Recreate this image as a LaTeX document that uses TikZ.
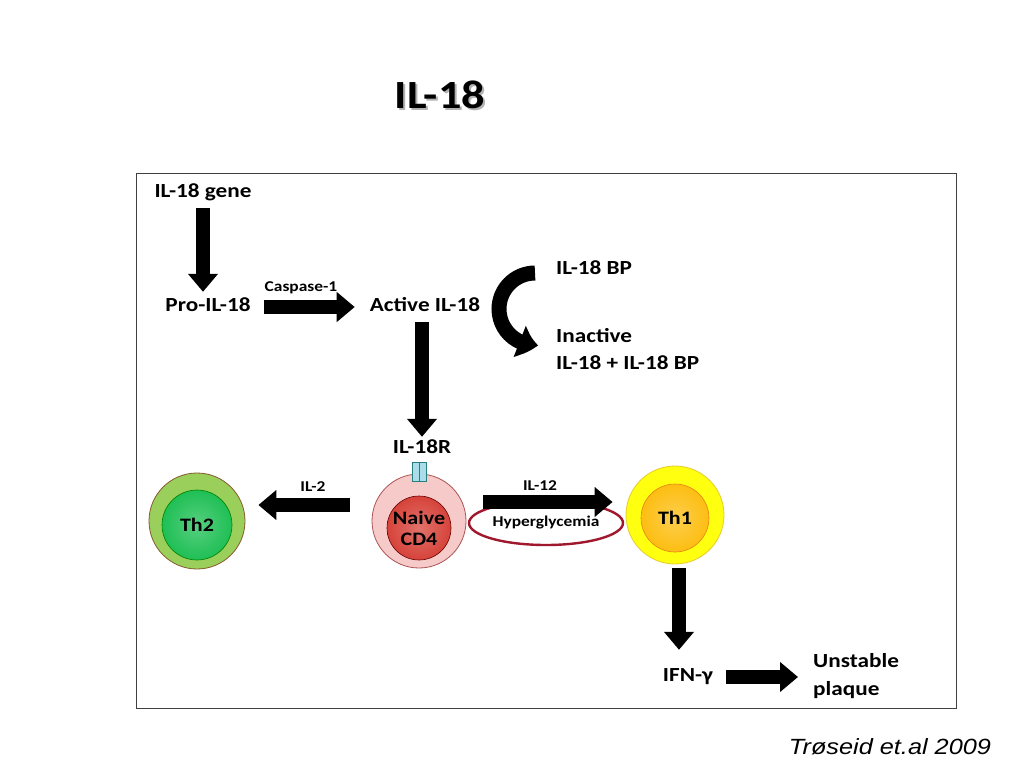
\documentclass[tikz,border=0pt]{standalone}
\usepackage{fontspec}
\setmainfont{Carlito}[FakeStretch=1.16]
\newfontfamily\citefont{Liberation Sans}[FakeStretch=1.15]
\usepackage{tikz}
\usetikzlibrary{arrows.meta,bending,calc,shapes.geometric}
\definecolor{ringgreen}{HTML}{9BCF5B}
\definecolor{cellgreen}{HTML}{1FBF55}
\definecolor{ringpink}{HTML}{F7CACA}
\definecolor{cellred}{HTML}{D6433A}
\definecolor{ringyellow}{HTML}{FFFF10}
\definecolor{cellorange}{HTML}{FDBE12}
\definecolor{hyper}{HTML}{A0182E}
\definecolor{recblue}{HTML}{A9DDE9}
\tikzset{
	every node/.style={
		font=\fontsize{20}{22}\selectfont\bfseries,
		inner sep=0pt,
		text height=13pt,
		text depth=4pt
	},
	small/.style={
		font=\fontsize{15}{17}\selectfont\bfseries,
		text height=10pt,
		text depth=3pt
	},
	twoline/.style={
		align=left,
		anchor=west,
		text height=,
		text depth=,
		font=\fontsize{20}{27.5}\selectfont\bfseries
	},
	ring/.style={
		shape=circle,
		minimum size=#1,
		line width=0.8pt
	},
	cell/.style={
		shape=circle,
		minimum size=#1,
		line width=0.6pt,
		align=center,
		text height=,
		text depth=,
		font=\fontsize{19}{21}\selectfont\bfseries
	},
	block/.style={
		line width=14pt,
		-{Triangle[width=29pt,length=18pt]}
	},
}

\begin{document}
\begin{tikzpicture}[x=1pt,y=-1pt]
	\useasboundingbox (0,0) rectangle (1024,768);
	\fill[white] (0,0) rectangle (1024,768);

	\node[gray!60, font=\fontsize{40}{44}\selectfont\bfseries, text height=, text depth=] at (442,97) {IL-18};
	\node[font=\fontsize{40}{44}\selectfont\bfseries, text height=, text depth=] (title) at (440,95) {IL-18};

	\draw[black!75, line width=0.8pt] (136,173) rectangle (956,708);

	\node (gene)   at (203,193) {IL-18 gene};
	\node (pro)    at (208,307) {Pro-IL-18};
	\node[small] (casp) at (301,288) {Caspase-1};
	\node (active) at (425,307) {Active IL-18};
	\node (ir)     at (422,449) {IL-18R};
	\node[anchor=west] (bp) at (556,270) {IL-18 BP};
	\node[twoline] (inact) at (556,349) {Inactive\\IL-18 + IL-18 BP};

	\node[ring=96pt, fill=ringgreen, draw=brown!70!black] (th2ring) at (197,521) {};
	\node[cell=70pt, shading=radial, inner color=cellgreen!75!white, outer color=cellgreen, draw=green!50!black] (th2) at (197,525) {Th2};
	\node[ring=94pt, fill=ringpink, draw=red!35!gray] (cd4ring) at (419,521) {};
	\node[cell=64pt, shading=radial, inner color=cellred!75!white, outer color=cellred, draw=red!40!black] (cd4) at (419,528) {Naive\\CD4};
	\node[shape=rectangle, minimum width=14pt, minimum height=19pt, fill=recblue, draw=teal!70!gray, line width=0.6pt,
		path picture={\draw[teal!70!gray, line width=0.5pt] (path picture bounding box.north) -- (path picture bounding box.south);}]
		(rec) at (419,472) {};
	\node[ring=98pt, fill=ringyellow, draw=yellow!60!brown] (th1ring) at (675,515) {};
	\node[cell=68pt, shading=radial, inner color=cellorange!75!white, outer color=cellorange, draw=orange!60!brown] (th1) at (675,518) {Th1};

	\node[small] (il2)  at (313,488) {IL-2};
	\node[small] (il12) at (540,487) {IL-12};
	\node[shape=ellipse, minimum width=154pt, minimum height=44pt, draw=hyper, line width=2.4pt,
		small, font=\fontsize{15}{17}\selectfont\bfseries] (hyp) at (546,523) {Hyperglycemia};

	\node (ifn) at (688,677) {IFN-γ};
	\node[twoline] (plaque) at (813,676) {Unstable\\plaque};

	\node[font=\fontsize{22}{24}\citefont\itshape, text height=, text depth=] (cite) at (890,747) {Trøseid et.al 2009};

	\draw[block, shorten <=6.5pt, shorten >=6.5pt] (gene.south) -- (gene.south |- pro.north);
	\draw[block, shorten <=13pt, shorten >=15pt] (pro.east) -- (active.west |- pro.east);
	\draw[block, shorten <=6.5pt, shorten >=3.5pt] (ir |- active.south) -- (ir.north);
	\draw[block, shorten <=22pt, shorten >=13pt] ([yshift=16pt]cd4ring.west) -- ([yshift=16pt]th2ring.east |- cd4ring.west);
	\draw[block, shorten <=17pt, shorten >=13pt] ([yshift=19pt]cd4ring.east) -- ([yshift=13pt]th1ring.west);
	\draw[block, shorten <=4pt, shorten >=18.5pt] ([xshift=4pt]th1ring.south) -- ([xshift=4pt]th1ring.south |- ifn.north);
	\draw[block, shorten <=13pt, shorten >=15pt] (ifn.east) -- (plaque.west |- ifn.east);
	\draw[line width=15pt, -{Triangle[width=32pt,length=19pt,bend]}]
		([shift={(-21pt,-3pt)}]bp.west) arc[start angle=-90, end angle=-275, radius=36];
\end{tikzpicture}
\end{document}
